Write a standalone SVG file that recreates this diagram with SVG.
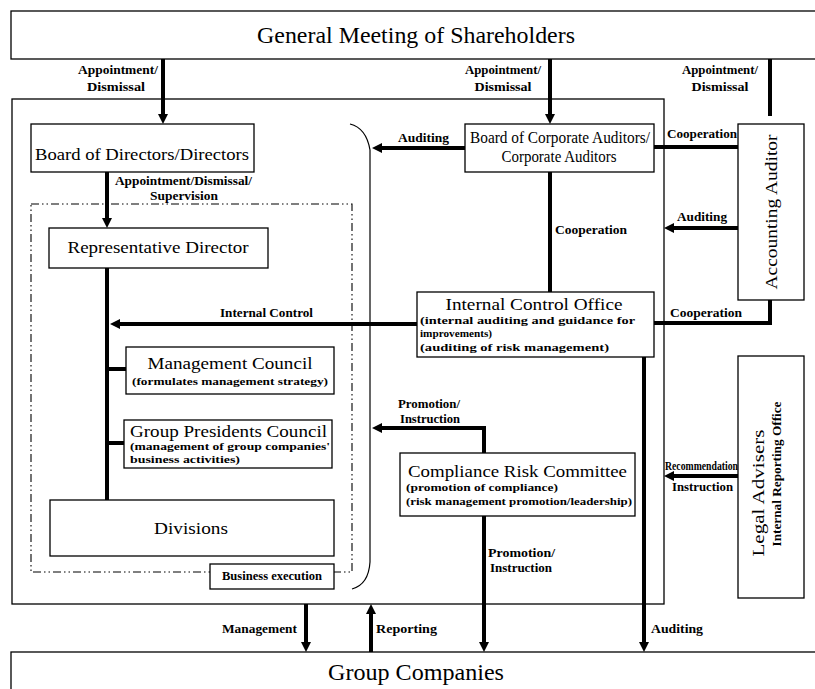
<svg xmlns="http://www.w3.org/2000/svg" width="815" height="689" viewBox="0 0 815 689">
<defs>
<style>
.box{fill:#fff;stroke:#000;stroke-width:1.3}
.thin{fill:none;stroke:#000;stroke-width:1.2}
.ln{fill:none;stroke:#000;stroke-width:4}
.ar{fill:none;stroke:#000;stroke-width:4;marker-end:url(#ah)}
text{font-family:"Liberation Serif","Times New Roman",serif;fill:#000}
.big{font-size:23px}
.t{font-size:17px}
.s{font-size:11px;font-weight:bold}
.lb{font-size:12.5px;font-weight:bold}
</style>
<marker id="ah" markerUnits="userSpaceOnUse" markerWidth="10" markerHeight="10" refX="0" refY="5" orient="auto" viewBox="0 0 10 10">
<path d="M0,0 L10,5 L0,10 z" fill="#000"/>
</marker>
</defs>
<rect width="815" height="689" fill="#fff"/>

<g id="outer"><rect class="box" x="12" y="99" width="652" height="505"/></g>
<g id="business-area">
<rect x="31" y="204" width="321" height="368" fill="none" stroke="#000" stroke-width="1.1" stroke-dasharray="8 3 1.5 3 1.5 3"/>
<path class="thin" d="M350,124 C362,127 368,138 370,150 L370,562 C369,578 363,586 352,589"/>
</g>

<g id="connectors">
<line class="ar" x1="163" y1="59" x2="163" y2="114"/>
<line class="ar" x1="550" y1="59" x2="550" y2="114"/>
<line class="ln" x1="770" y1="59" x2="770" y2="116"/>
<line class="ar" x1="107" y1="172" x2="107" y2="218"/>
<line class="ar" x1="465" y1="148" x2="382" y2="148"/>
<line class="ln" x1="654" y1="147" x2="738" y2="147"/>
<line class="ln" x1="550" y1="172" x2="550" y2="292"/>
<line class="ar" x1="738" y1="228" x2="674" y2="228"/>
<polyline class="ln" points="654,323 770,323 770,300"/>
<line class="ar" x1="417" y1="324" x2="120" y2="324"/>
<line class="ln" x1="107" y1="268" x2="107" y2="500"/>
<line class="ln" x1="107" y1="369" x2="126" y2="369"/>
<line class="ln" x1="107" y1="443" x2="124" y2="443"/>
<polyline class="ar" points="484,453 484,428 382,428"/>
<line class="ar" x1="484" y1="516" x2="484" y2="642"/>
<line class="ar" x1="644" y1="357" x2="644" y2="642"/>
<line class="ar" x1="738" y1="476" x2="674" y2="476"/>
<line class="ar" x1="306" y1="604" x2="306" y2="642"/>
<line class="ar" x1="371" y1="652" x2="371" y2="614"/>
</g>

<g id="labels">
<text class="lb" x="118" y="74" text-anchor="middle" textLength="80" lengthAdjust="spacingAndGlyphs">Appointment/</text>
<text class="lb" x="116" y="91" text-anchor="middle" textLength="58" lengthAdjust="spacingAndGlyphs">Dismissal</text>
<text class="lb" x="503" y="74" text-anchor="middle" textLength="76" lengthAdjust="spacingAndGlyphs">Appointment/</text>
<text class="lb" x="503" y="91" text-anchor="middle" textLength="57" lengthAdjust="spacingAndGlyphs">Dismissal</text>
<text class="lb" x="720" y="74" text-anchor="middle" textLength="76" lengthAdjust="spacingAndGlyphs">Appointment/</text>
<text class="lb" x="720" y="91" text-anchor="middle" textLength="57" lengthAdjust="spacingAndGlyphs">Dismissal</text>
<text class="lb" x="115" y="185" textLength="137" lengthAdjust="spacingAndGlyphs">Appointment/Dismissal/</text>
<text class="lb" x="150" y="200" textLength="68" lengthAdjust="spacingAndGlyphs">Supervision</text>
<text class="lb" x="398" y="142" textLength="51" lengthAdjust="spacingAndGlyphs">Auditing</text>
<text class="lb" x="667" y="138" textLength="70" lengthAdjust="spacingAndGlyphs">Cooperation</text>
<text class="lb" x="555" y="234" textLength="72" lengthAdjust="spacingAndGlyphs">Cooperation</text>
<text class="lb" x="677" y="221" textLength="50" lengthAdjust="spacingAndGlyphs">Auditing</text>
<text class="lb" x="670" y="317" textLength="72" lengthAdjust="spacingAndGlyphs">Cooperation</text>
<text class="lb" x="220" y="317" textLength="93" lengthAdjust="spacingAndGlyphs">Internal Control</text>
<text class="lb" x="398" y="408" textLength="62" lengthAdjust="spacingAndGlyphs">Promotion/</text>
<text class="lb" x="400" y="423" textLength="60" lengthAdjust="spacingAndGlyphs">Instruction</text>
<text class="lb" x="665" y="470" textLength="73" lengthAdjust="spacingAndGlyphs">Recommendation</text>
<text class="lb" x="672" y="491" textLength="61" lengthAdjust="spacingAndGlyphs">Instruction</text>
<text class="lb" x="488" y="557" textLength="67" lengthAdjust="spacingAndGlyphs">Promotion/</text>
<text class="lb" x="490" y="572" textLength="62" lengthAdjust="spacingAndGlyphs">Instruction</text>
<text class="lb" x="651" y="633" textLength="52" lengthAdjust="spacingAndGlyphs">Auditing</text>
<text class="lb" x="222" y="633" textLength="75" lengthAdjust="spacingAndGlyphs">Management</text>
<text class="lb" x="376" y="633" textLength="61" lengthAdjust="spacingAndGlyphs">Reporting</text>
</g>

<g id="gms"><rect class="box" x="11" y="11" width="815" height="48"/>
<text class="big" x="416" y="43" text-anchor="middle" textLength="318" lengthAdjust="spacingAndGlyphs">General Meeting of Shareholders</text></g>

<g id="board-directors"><rect class="box" x="31" y="124" width="223" height="48"/>
<text class="t" x="142" y="160" text-anchor="middle" textLength="214" lengthAdjust="spacingAndGlyphs">Board of Directors/Directors</text></g>

<g id="rep-director"><rect class="box" x="49" y="228" width="219" height="40"/>
<text class="t" x="158" y="253" text-anchor="middle" textLength="181" lengthAdjust="spacingAndGlyphs">Representative Director</text></g>

<g id="mgmt-council"><rect class="box" x="126" y="347" width="208" height="47"/>
<text class="t" x="230" y="369" text-anchor="middle" textLength="165" lengthAdjust="spacingAndGlyphs">Management Council</text>
<text class="s" x="230" y="385" text-anchor="middle" textLength="196" lengthAdjust="spacingAndGlyphs">(formulates management strategy)</text></g>

<g id="gp-council"><rect class="box" x="124" y="420" width="208" height="48"/>
<text class="t" x="130" y="437" textLength="197" lengthAdjust="spacingAndGlyphs">Group Presidents Council</text>
<text class="s" x="130" y="450" textLength="200" lengthAdjust="spacingAndGlyphs">(management of group companies'</text>
<text class="s" x="130" y="463" textLength="110" lengthAdjust="spacingAndGlyphs">business activities)</text></g>

<g id="divisions"><rect class="box" x="50" y="500" width="284" height="56"/>
<text class="t" x="191" y="534" text-anchor="middle" font-size="20" textLength="74" lengthAdjust="spacingAndGlyphs">Divisions</text></g>

<g id="business-execution"><rect class="box" x="210" y="564" width="124" height="25"/>
<text class="lb" x="222" y="580" font-size="10.5" textLength="100" lengthAdjust="spacingAndGlyphs">Business execution</text></g>

<g id="board-auditors"><rect class="box" x="465" y="124" width="189" height="48"/>
<text class="t" x="560" y="143" text-anchor="middle" font-size="15" textLength="180" lengthAdjust="spacingAndGlyphs">Board of Corporate Auditors/</text>
<text class="t" x="559" y="162" text-anchor="middle" font-size="15" textLength="115" lengthAdjust="spacingAndGlyphs">Corporate Auditors</text></g>

<g id="accounting-auditor"><rect class="box" x="738" y="124" width="66" height="176"/>
<text class="t" transform="translate(777,212) rotate(-90)" text-anchor="middle" font-size="18" textLength="155" lengthAdjust="spacingAndGlyphs">Accounting Auditor</text></g>

<g id="ico"><rect class="box" x="417" y="292" width="237" height="65"/>
<text class="t" x="534" y="310" text-anchor="middle" textLength="177" lengthAdjust="spacingAndGlyphs">Internal Control Office</text>
<text class="s" x="420" y="324" textLength="215" lengthAdjust="spacingAndGlyphs">(internal auditing and guidance for</text>
<text class="s" x="420" y="337" textLength="72" lengthAdjust="spacingAndGlyphs">improvements)</text>
<text class="s" x="420" y="351" textLength="189" lengthAdjust="spacingAndGlyphs">(auditing of risk management)</text></g>

<g id="crc"><rect class="box" x="400" y="453" width="235" height="63"/>
<text class="t" x="408" y="477" textLength="219" lengthAdjust="spacingAndGlyphs">Compliance Risk Committee</text>
<text class="s" x="406" y="491" textLength="152" lengthAdjust="spacingAndGlyphs">(promotion of compliance)</text>
<text class="s" x="406" y="505" textLength="226" lengthAdjust="spacingAndGlyphs">(risk management promotion/leadership)</text></g>

<g id="legal"><rect class="box" x="738" y="356" width="66" height="242"/>
<text class="t" transform="translate(764,493) rotate(-90)" text-anchor="middle" font-size="18" textLength="127" lengthAdjust="spacingAndGlyphs">Legal Advisers</text>
<text class="lb" transform="translate(781,474) rotate(-90)" text-anchor="middle" font-size="11" textLength="145" lengthAdjust="spacingAndGlyphs">Internal Reporting Office</text></g>

<g id="group-companies"><rect class="box" x="11" y="652" width="815" height="50"/>
<text class="big" x="416" y="680" text-anchor="middle" textLength="176" lengthAdjust="spacingAndGlyphs">Group Companies</text></g>
</svg>
